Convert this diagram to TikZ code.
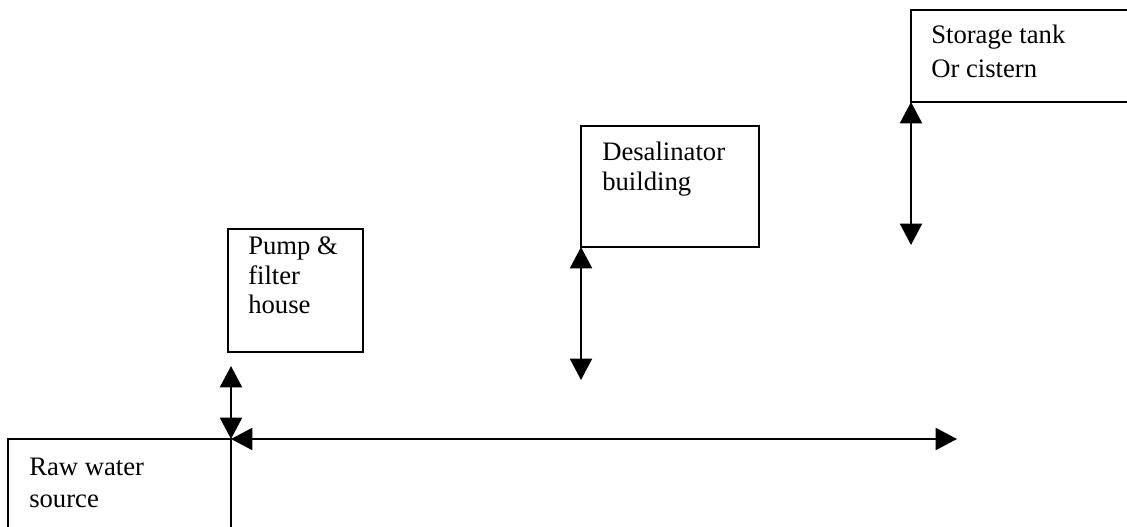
\documentclass[tikz,border=0pt]{standalone}
\usepackage{fontspec}
\setmainfont{Liberation Serif}
\usetikzlibrary{arrows.meta}
\begin{document}
\begin{tikzpicture}[x=0.75pt,y=-0.75pt,
  box/.style={draw,line width=1.5pt,inner sep=0pt,outer sep=0pt,anchor=north west},
  lbl/.style={anchor=base west,inner sep=0pt,font=\fontsize{20}{24}\selectfont},
  flow/.style={line width=1.5pt,{Triangle[length=16pt,width=16.5pt]}-{Triangle[length=16pt,width=16.5pt]}}]
\useasboundingbox (0,0) rectangle (1127,527);
\begin{scope}
\clip (0,0) rectangle (1127,527);
% boxes
\node[box,minimum width=167.25pt,minimum height=90pt] (raw) at (8,439) {};
\node[box,minimum width=101.25pt,minimum height=92.25pt] (pump) at (228,229) {};
\node[box,minimum width=133.5pt,minimum height=90.75pt] (desal) at (581,126) {};
\node[box,minimum width=187.5pt,minimum height=69pt] (store) at (911,10) {};
% labels
\node[lbl] (raw1) at (29,475) {Raw water};
\node[lbl] (raw2) at (29,507) {source};
\node[lbl] (pump1) at (248,255) {Pump \&};
\node[lbl] (pump2) at (248,284) {filter};
\node[lbl] (pump3) at (248,313) {house};
\node[lbl] (desal1) at (602,161) {Desalinator};
\node[lbl] (desal2) at (602,191) {building};
\node[lbl] (store1) at (931,44) {Storage tank};
\node[lbl] (store2) at (931,78) {Or cistern};
% free ends
\coordinate (pumpend) at (231,366);
\coordinate (hend) at (957,439);
\coordinate (desalend) at (581,380);
\coordinate (storeend) at (911,245);
% connectors
\draw[flow] (pumpend) -- (raw.north east);
\draw[flow] (raw.north east) -- (hend);
\draw[flow] (desal.south west) -- (desalend);
\draw[flow] (store.south west) -- (storeend);
\end{scope}
\end{tikzpicture}
\end{document}
